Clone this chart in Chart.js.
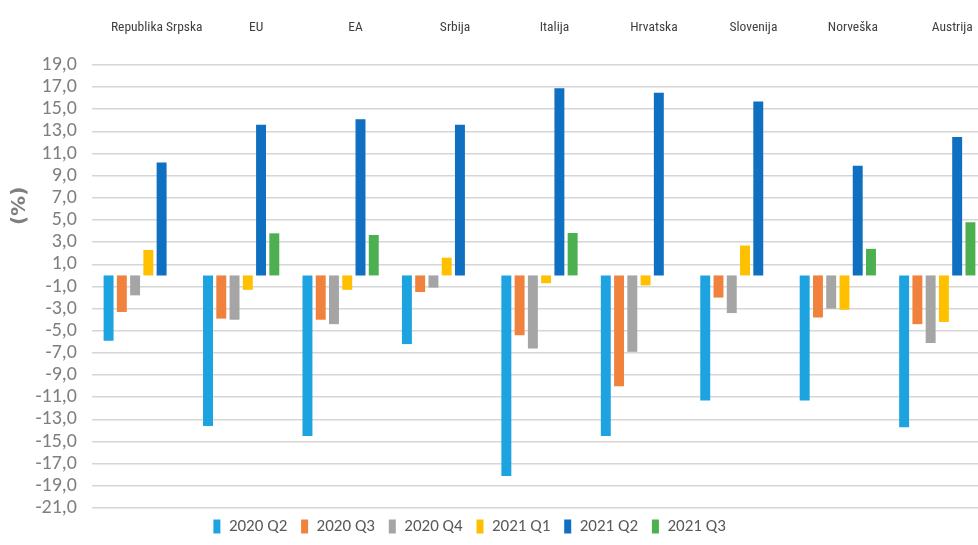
<!DOCTYPE html>
<html>
<head>
<meta charset="utf-8">
<script src="https://cdn.jsdelivr.net/npm/chart.js@4"></script>
<style>
  html, body { margin: 0; padding: 0; background: #ffffff; overflow: hidden; }
  #wrap { width: 990px; height: 545px; position: relative; }
</style>
</head>
<body>
<div id="wrap"><canvas id="c" width="990" height="545"></canvas></div>
<script>
const categories = ["Republika Srpska", "EU", "EA", "Srbija", "Italija", "Hrvatska", "Slovenija", "Norveška", "Austrija"];
const seriesNames = ["2020 Q2", "2020 Q3", "2020 Q4", "2021 Q1", "2021 Q2", "2021 Q3"];
const q2_2020 = [-5.9, -13.6, -14.5, -6.2, -18.1, -14.5, -11.3, -11.3, -13.7];
const q3_2020 = [-3.3, -3.9, -4.0, -1.5, -5.4, -10.0, -2.0, -3.8, -4.4];
const q4_2020 = [-1.8, -4.0, -4.4, -1.1, -6.6, -6.9, -3.4, -3.0, -6.1];
const q1_2021 = [2.3, -1.3, -1.3, 1.6, -0.7, -0.9, 2.7, -3.1, -4.2];
const q2_2021 = [10.2, 13.6, 14.1, 13.6, 16.9, 16.5, 15.7, 9.9, 12.5];
const q3_2021 = [null, 3.8, 3.65, null, 3.83, null, null, 2.4, 4.8];
const yMin = -21, yMax = 19, yStep = 2;
const yTitle = "(%)";

const colors = ["#1ca3e0", "#f0823e", "#a5a5a5", "#ffc000", "#0f6fc0", "#4caf50"];
const seriesValues = [q2_2020, q3_2020, q4_2020, q1_2021, q2_2021, q3_2021];

const narrow = "'Roboto Condensed', 'Liberation Sans Narrow', 'Arial Narrow', sans-serif";
const calibri = "Carlito, Calibri, 'Liberation Sans', sans-serif";

const yTitlePlugin = {
  id: 'yTitlePlugin',
  afterDraw(chart) {
    const ctx = chart.ctx;
    const a = chart.chartArea;
    ctx.save();
    ctx.translate(20, a.top + (a.bottom - a.top) * 0.318);
    ctx.rotate(-Math.PI / 2);
    ctx.font = "bold 20px 'DejaVu Sans', sans-serif";
    ctx.fillStyle = "#7f7f7f";
    ctx.textAlign = "center";
    ctx.textBaseline = "middle";
    ctx.fillText(yTitle, 0, 0);
    ctx.restore();
  }
};

const legendShift = {
  id: 'legendShift',
  afterLayout(chart) {
    const lg = chart.legend;
    if (lg) { lg.left -= 22; lg.right -= 22; }
  }
};

new Chart(document.getElementById('c'), {
  type: 'bar',
  data: {
    labels: categories,
    datasets: seriesNames.map((n, i) => ({
      label: n,
      data: seriesValues[i],
      backgroundColor: colors[i],
      borderWidth: 0
    }))
  },
  options: {
    responsive: false,
    animation: false,
    devicePixelRatio: 1,
    layout: { padding: { top: 0, bottom: 0, left: 0, right: 3 } },
    datasets: { bar: { categoryPercentage: 0.8, barPercentage: 0.75 } },
    scales: {
      x: {
        position: 'top',
        afterFit(scale) { scale.height = 65; },
        grid: { display: false, drawTicks: false },
        border: { display: false },
        ticks: {
          font: { family: narrow, size: 13.5 },
          color: "#404040",
          padding: 29,
          labelOffset: 15,
          maxRotation: 0,
          autoSkip: false
        }
      },
      y: {
        min: yMin,
        max: yMax,
        afterFit(scale) { scale.width = 92; },
        grid: { color: "#d6d6d6", lineWidth: 1.6, drawTicks: false },
        border: { display: false },
        ticks: {
          stepSize: yStep,
          autoSkip: false,
          padding: 15,
          color: "#7f7f7f",
          font: { family: calibri, size: 20 },
          callback: (v) => v.toFixed(1).replace('.', ',')
        }
      }
    },
    plugins: {
      tooltip: { enabled: false },
      legend: {
        position: 'bottom',
        labels: {
          boxWidth: 7,
          boxHeight: 14,
          padding: 10,
          color: "#595959",
          font: { family: calibri, size: 17 },
          generateLabels(chart) {
            const items = Chart.defaults.plugins.legend.labels.generateLabels(chart);
            items.forEach(it => { it.text = it.text + ' '; it.lineWidth = 0; });
            return items;
          }
        }
      }
    }
  },
  plugins: [yTitlePlugin, legendShift]
});
</script>
</body>
</html>
